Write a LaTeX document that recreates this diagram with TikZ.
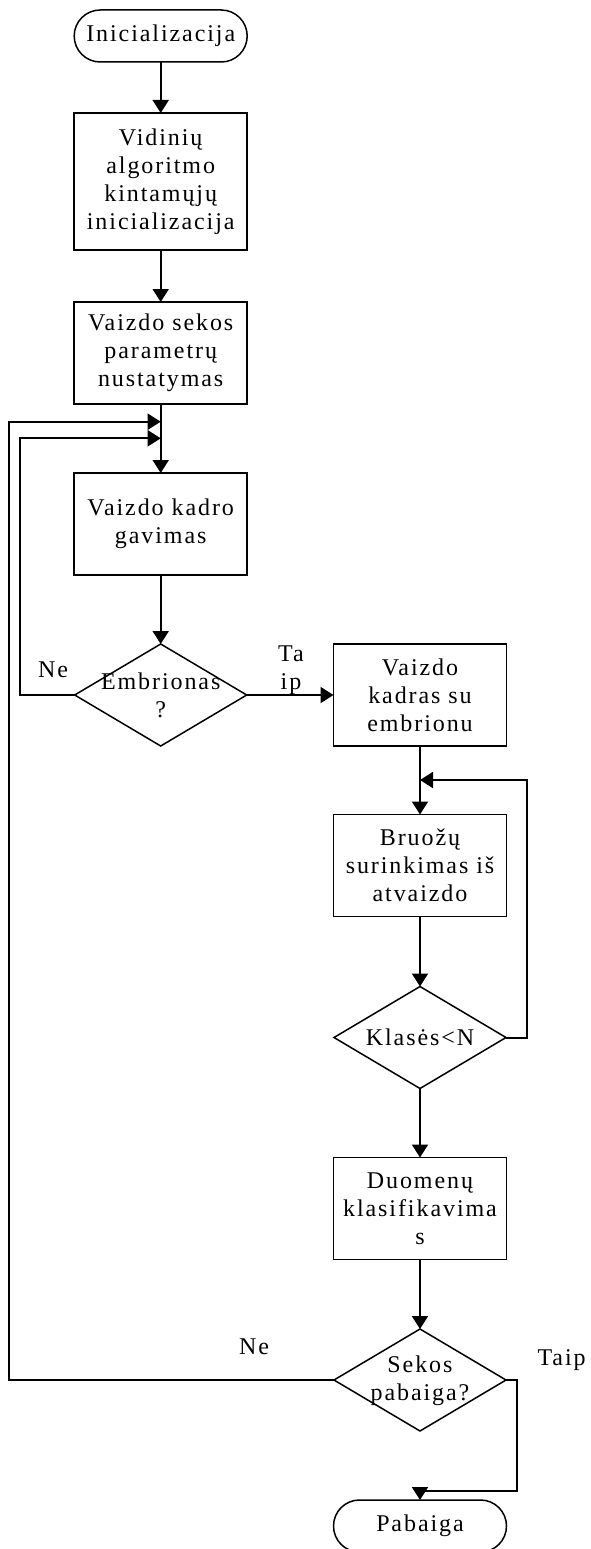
\documentclass[tikz,border=0pt]{standalone}
\usepackage{fontspec}
\setmainfont{Liberation Serif}[LetterSpace=8]
\usetikzlibrary{arrows.meta,shapes.geometric}
\begin{document}
\begin{tikzpicture}[x=1pt,y=-1pt,
  font=\fontsize{24}{28}\selectfont,
  box/.style={draw, line width=1.5pt, minimum width=173pt, minimum height=102pt, align=center, inner sep=0pt, outer sep=0pt},
  term/.style={draw, line width=1.5pt, rounded corners=26pt, minimum width=173pt, minimum height=52pt, inner sep=0pt, outer sep=0pt},
  dia/.style={draw, diamond, line width=1.5pt, minimum width=172pt, minimum height=102pt, inner sep=0pt, outer sep=0pt},
  txt/.style={align=center, inner sep=0pt},
  conn/.style={line width=2pt, -{Triangle[length=13pt,width=16pt]}},
]
\clip (0,0) rectangle (590,1549);
% main column
\node[term] (start) at (160.7,36) {Inicializacija};
\node[box, minimum height=137pt] (b1) at (160.7,181.5) {Vidinių\\algoritmo\\kintamųjų\\inicializacija};
\node[box] (b2) at (160.7,353) {Vaizdo sekos\\parametrų\\nustatymas};
\node[box] (b3) at (160.7,524) {Vaizdo kadro\\gavimas};
\node[dia] (d1) at (160.7,695) {};
\node[txt] (d1t) at (160.7,695) {Embrionas\\?};
% right column
\node[box] (b4) at (420,695) {Vaizdo\\kadras su\\embrionu};
\node[box] (b5) at (420,865.5) {Bruožų\\surinkimas iš\\atvaizdo};
\node[dia] (d2) at (420,1037.5) {};
\node[txt] (d2t) at (420,1037.5) {Klasės<N};
\node[box] (b6) at (420,1208.5) {Duomenų\\klasifikavima\\s};
\node[dia] (d3) at (420,1380) {};
\node[txt] (d3t) at (420,1381) {Sekos\\pabaiga?};
\node[term] (end) at (420,1526) {Pabaiga};
% merge points
\coordinate (m1) at (160.7,421.7);
\coordinate (m2) at (160.7,438.3);
\coordinate (m3) at (420,780);
% connectors
\draw[conn] (start) -- (b1);
\draw[conn] (b1) -- (b2);
\draw[conn] (b2) -- (b3);
\draw[conn] (b3) -- (d1);
\draw[conn] (d1.east) -- (b4.west);
\draw[conn] (d1.west) -- (19.7,695) -- (19.7,438.3) -- (m2);
\draw[conn] (b4) -- (b5);
\draw[conn] (b5) -- (d2);
\draw[conn] (d2.east) -- (527,1037.5) -- (527,780) -- (m3);
\draw[conn] (d2) -- (b6);
\draw[conn] (b6) -- (d3);
\draw[conn] (d3.west) -- (9,1380) -- (9,421.7) -- (m1);
\draw[conn] (d3.east) -- (517.4,1380) -- (517.4,1490.7) -- (420,1490.7) -- (end.north);
% labels
\node[txt] (l1) at (291,670) {Ta\\ip};
\node[txt] (l2) at (53,670) {Ne};
\node[txt] (l3) at (254,1347) {Ne};
\node[txt] (l4) at (561.6,1360) {Taip};
\end{tikzpicture}
\end{document}
